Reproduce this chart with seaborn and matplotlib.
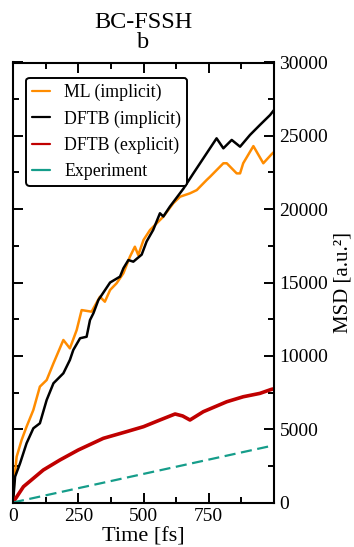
import matplotlib
matplotlib.use("Agg")
import matplotlib.pyplot as plt
from matplotlib.lines import Line2D
from matplotlib.ticker import MultipleLocator
import pandas as pd
import seaborn as sns

# Mean squared displacement vs. time, BC-FSSH
ml_time = [0, 4, 14, 33, 52, 78, 103, 129, 155, 193, 218, 244, 263, 301, 333, 352,
           372, 397, 423, 448, 467, 480, 500, 525, 576, 614, 640, 678, 704, 742, 755,
           806, 819, 857, 870, 882, 921, 959, 991, 1000]
ml_msd = [0, 1330, 3120, 4260, 5170, 6310, 7900, 8350, 9490, 11080, 10510, 11760, 13120,
          13010, 14030, 13690, 14490, 14950, 15630, 16760, 17440, 16870, 17900, 18580,
          19490, 20400, 20850, 21080, 21300, 21990, 22210, 23130, 23130, 22440, 22440,
          23130, 24300, 23130, 23750, 23900]

dftb_imp_time = [0, 8, 27, 52, 78, 103, 129, 155, 193, 218, 231, 257, 282, 295, 308, 327,
                 372, 410, 423, 442, 461, 493, 512, 537, 563, 576, 601, 653, 691, 742, 780,
                 806, 838, 870, 908, 946, 985, 1000]
dftb_imp_msd = [0, 1760, 2670, 4040, 5060, 5400, 6990, 8130, 8810, 9720, 10400, 11200,
                11300, 12440, 12900, 13800, 15000, 15400, 15970, 16530, 16420, 16900, 17800,
                18580, 19720, 19500, 20170, 21400, 22440, 23810, 24830, 24150, 24720, 24260,
                25060, 25740, 26420, 26760]

dftb_exp_time = [0, 40, 116, 180, 250, 346, 435, 500, 563, 621, 650, 678, 729, 819, 882,
                 946, 991, 1000]
dftb_exp_msd = [0, 1080, 2215, 2900, 3580, 4375, 4830, 5170, 5625, 6035, 5900, 5625, 6190,
                6870, 7210, 7440, 7720, 7750]

exp_time = [0, 1000]
exp_msd = [0, 3900]

labels = ["ML (implicit)", "DFTB (implicit)", "DFTB (explicit)", "Experiment"]
colors = ["#ff8c00", "#000000", "#c00000", "#159d8a"]

sns.set_theme(style="ticks")
plt.rcParams["font.family"] = ["Liberation Serif", "DejaVu Serif"]
plt.rcParams["text.color"] = "black"
plt.rcParams["axes.labelcolor"] = "black"
plt.rcParams["xtick.color"] = "black"
plt.rcParams["ytick.color"] = "black"

fig = plt.figure(figsize=(3.54, 5.47), dpi=100)
ax = fig.add_axes([13 / 354, 1 - 502.5 / 547, 261 / 354, 440 / 547])

series = [
    (ml_time, ml_msd, colors[0], 1.8, "-"),
    (dftb_imp_time, dftb_imp_msd, colors[1], 1.8, "-"),
    (dftb_exp_time, dftb_exp_msd, colors[2], 2.6, "-"),
    (exp_time, exp_msd, colors[3], 1.6, (0, (5, 2.5))),
]
for t, m, c, lw, ls in series:
    df = pd.DataFrame({"time": t, "msd": m})
    sns.lineplot(data=df, x="time", y="msd", color=c, linewidth=lw, linestyle=ls,
                 ax=ax, legend=False, estimator=None, sort=False)

ax.set_xlim(0, 1000)
ax.set_ylim(0, 30000)
ax.set_xticks([0, 250, 500, 750])
ax.xaxis.set_minor_locator(MultipleLocator(125))
ax.yaxis.set_major_locator(MultipleLocator(5000))
ax.yaxis.set_minor_locator(MultipleLocator(2500))
ax.yaxis.tick_right()
ax.yaxis.set_label_position("right")
ax.tick_params(which="both", direction="in", top=True, bottom=True, left=True, right=True,
               labelleft=False, labelright=True, width=1.4, labelsize=14, pad=4,
               colors="black")
ax.tick_params(which="major", length=7)
ax.tick_params(which="minor", length=4.5)
for s in ax.spines.values():
    s.set_linewidth(1.5)
    s.set_color("black")

ax.set_xlabel("Time [fs]", fontsize=16, labelpad=2)
ax.set_ylabel("MSD [a.u.²]", fontsize=15, labelpad=4)
ax.set_title("BC-FSSH\nb", fontsize=17.5, linespacing=0.92, pad=10.5)

handles = [Line2D([], [], color=c, lw=1.6) for c in colors]
leg = ax.legend(handles, labels, loc="upper left", bbox_to_anchor=(0.05, 0.965),
                borderaxespad=0, fontsize=12.8, handlelength=1.0, handletextpad=0.8,
                labelspacing=0.5, borderpad=0.35, fancybox=True, framealpha=1)
leg.get_frame().set_edgecolor("black")
leg.get_frame().set_linewidth(1.4)

fig.savefig("out.png", dpi=100)
